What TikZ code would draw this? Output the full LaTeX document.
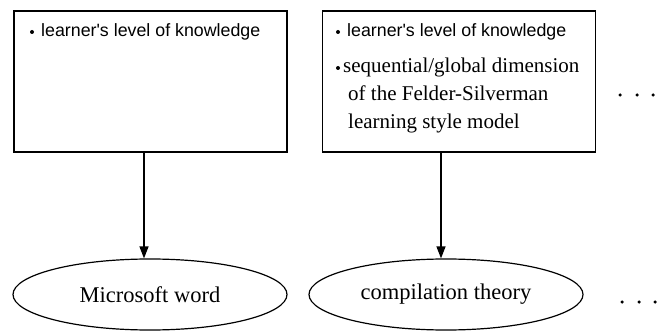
\documentclass[tikz,border=0pt]{standalone}
\usepackage{fontspec}
\setmainfont{Liberation Serif}
\newfontfamily\arialish{Liberation Sans}
\usetikzlibrary{shapes.geometric,arrows.meta}
\tikzset{
  boxnode/.style={draw, line width=1.3pt, minimum width=273pt, minimum height=141pt, inner sep=0pt},
  ovalnode/.style={draw, ellipse, line width=1.2pt, minimum width=274pt, minimum height=71pt, inner sep=0pt, font=\fontsize{22.5}{26}\selectfont},
  sanstxt/.style={anchor=base west, inner sep=0pt, font=\arialish\fontsize{17.8}{20}\selectfont},
  seriftxt/.style={anchor=base west, inner sep=0pt, font=\fontsize{21}{24}\selectfont},
  bulletdot/.style={circle, fill=black, inner sep=0pt, minimum size=4pt},
  smalldot/.style={circle, fill=black, inner sep=0pt, minimum size=3.5pt},
  arr/.style={line width=1.3pt, -{Triangle[length=12pt,width=9pt]}}
}
\begin{document}
\begin{tikzpicture}[x=1pt,y=-1pt]
\useasboundingbox (0,0) rectangle (666,331);
% boxes
\node[boxnode] (b1) at (150.5,81.5) {};
\node[boxnode] (b2) at (459,81.5) {};
% box 1 text
\node[bulletdot] (d1) at (32,32) {};
\node[sanstxt] (t1) at (41,37) {learner's level of knowledge};
% box 2 text
\node[bulletdot] (d2) at (338,32) {};
\node[sanstxt] (t2) at (347,37) {learner's level of knowledge};
\node[bulletdot] (d3) at (338,68) {};
\node[seriftxt] (t3) at (343,73) {sequential/global dimension};
\node[seriftxt] (t4) at (348,101) {of the Felder-Silverman};
\node[seriftxt] (t5) at (348,129) {learning style model};
% ellipses
\node[ovalnode] (e1) at (150,294.5) {Microsoft word};
\node[ovalnode] (e2) at (446,294.5) {compilation theory};
% arrows
\coordinate (a1) at (144,0);
\coordinate (a2) at (441,0);
\draw[arr] (b1.south -| a1) -- (e1.north -| a1);
\draw[arr] (b2.south -| a2) -- (e2.north -| a2);
% ellipsis dots
\node[smalldot] (p1) at (620,95) {};
\node[smalldot] (p2) at (637,95) {};
\node[smalldot] (p3) at (653,95) {};
\node[smalldot] (q1) at (622,302) {};
\node[smalldot] (q2) at (639,302) {};
\node[smalldot] (q3) at (655,302) {};
\end{tikzpicture}
\end{document}
